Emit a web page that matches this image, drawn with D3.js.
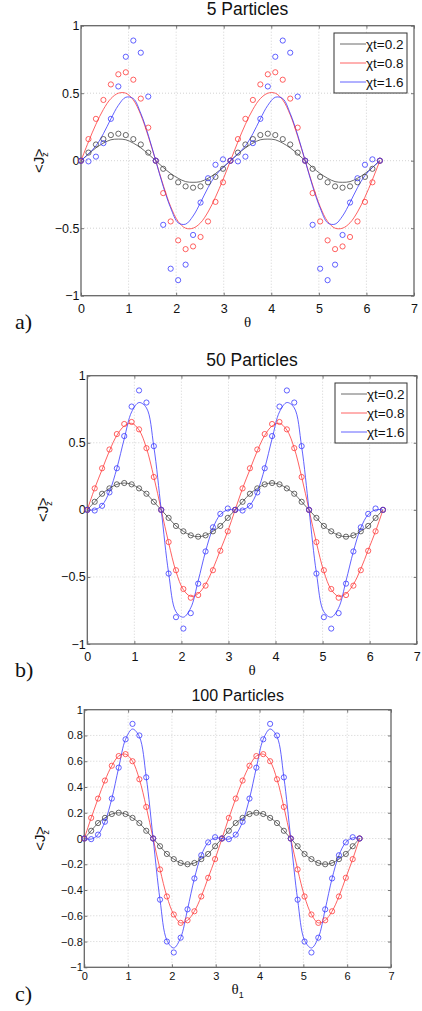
<!DOCTYPE html>
<html><head><meta charset="utf-8">
<script src="https://cdn.jsdelivr.net/npm/d3@7"></script>
<style>body{margin:0;background:#fff} svg{display:block}</style>
</head><body><svg id="c" width="422" height="1011"></svg>
<script>
// ---- data ----
const theta = [0,0.157,0.314,0.471,0.628,0.785,0.942,1.100,1.257,1.414,1.571,1.728,1.885,2.042,2.199,2.356,2.513,2.670,2.827,2.985,3.142,
  3.299,3.456,3.613,3.770,3.927,4.084,4.241,4.398,4.555,4.712,4.869,5.027,5.184,5.341,5.498,5.655,5.812,5.969,6.126,6.283];
const seriesNames = ["χt=0.2","χt=0.8","χt=1.6"];
const titles = ["5 Particles","50 Particles","100 Particles"];
const panelTags = ["a)","b)","c)"];
const xTicks = [0,1,2,3,4,5,6,7];
const yTicksAB = [-1,-0.5,0,0.5,1];
const yTicksC = [-1,-0.8,-0.6,-0.4,-0.2,0,0.2,0.4,0.6,0.8,1];

// circles (same in all panels)
const markBlack = [0,.06,.12,.16,.19,.20,.19,.16,.12,.06,0,-.06,-.12,-.16,-.19,-.20,-.19,-.16,-.12,-.06,0,
  .06,.12,.16,.19,.20,.19,.16,.12,.06,0,-.06,-.12,-.16,-.19,-.20,-.19,-.16,-.12,-.06,0];
const markRed = [0,.16,.31,.45,.565,.64,.655,.60,.46,.245,0,-.24,-.45,-.59,-.655,-.635,-.565,-.45,-.305,-.16,0,
  .16,.31,.45,.565,.64,.655,.60,.46,.245,0,-.24,-.45,-.59,-.655,-.635,-.565,-.45,-.305,-.16,0];
const markBlue = [0,-.005,.03,.13,.31,.55,.77,.89,.80,.475,0,-.475,-.80,-.885,-.77,-.55,-.31,-.13,-.03,.01,0,
  -.005,.03,.13,.31,.55,.77,.89,.80,.475,0,-.475,-.80,-.885,-.77,-.55,-.31,-.13,-.03,.01,0];

// lines, panel a (5 particles)
const lineA_black = [0,.05,.095,.13,.155,.16,.155,.13,.095,.05,0,-.05,-.095,-.13,-.155,-.16,-.155,-.13,-.095,-.05,0,
  .05,.095,.13,.155,.16,.155,.13,.095,.05,0,-.05,-.095,-.13,-.155,-.16,-.155,-.13,-.095,-.05,0];
const lineA_red = [0,.14,.27,.38,.46,.50,.50,.45,.34,.18,0,-.18,-.34,-.45,-.50,-.50,-.46,-.38,-.27,-.14,0,
  .14,.27,.38,.46,.50,.50,.45,.34,.18,0,-.18,-.34,-.45,-.50,-.50,-.46,-.38,-.27,-.14,0];
const lineA_blue = [0,.05,.11,.20,.31,.41,.47,.46,.35,.19,0,-.19,-.35,-.46,-.47,-.41,-.31,-.20,-.11,-.05,0,
  .05,.11,.20,.31,.41,.47,.46,.35,.19,0,-.19,-.35,-.46,-.47,-.41,-.31,-.20,-.11,-.05,0];
// lines, panel b (50 particles)
const lineB_black = [0,.06,.12,.16,.19,.20,.19,.16,.12,.06,0,-.06,-.12,-.16,-.19,-.20,-.19,-.16,-.12,-.06,0,
  .06,.12,.16,.19,.20,.19,.16,.12,.06,0,-.06,-.12,-.16,-.19,-.20,-.19,-.16,-.12,-.06,0];
const lineB_red = [0,.16,.30,.44,.555,.625,.645,.595,.46,.245,0,-.245,-.46,-.595,-.645,-.625,-.555,-.44,-.30,-.16,0,
  .16,.30,.44,.555,.625,.645,.595,.46,.245,0,-.245,-.46,-.595,-.645,-.625,-.555,-.44,-.30,-.16,0];
const lineB_blue = [0,0,.035,.135,.31,.53,.73,.80,.76,.47,0,-.47,-.76,-.80,-.73,-.53,-.31,-.135,-.035,0,0,
  0,.035,.135,.31,.53,.73,.80,.76,.47,0,-.47,-.76,-.80,-.73,-.53,-.31,-.135,-.035,0,0];
// lines, panel c (100 particles)
const lineC_black = [0,.06,.12,.16,.19,.20,.19,.16,.12,.06,0,-.06,-.12,-.16,-.19,-.20,-.19,-.16,-.12,-.06,0,
  .06,.12,.16,.19,.20,.19,.16,.12,.06,0,-.06,-.12,-.16,-.19,-.20,-.19,-.16,-.12,-.06,0];
const lineC_red = [0,.16,.31,.45,.565,.64,.655,.60,.46,.245,0,-.24,-.45,-.59,-.655,-.635,-.565,-.45,-.305,-.16,0,
  .16,.31,.45,.565,.64,.655,.60,.46,.245,0,-.24,-.45,-.59,-.655,-.635,-.565,-.45,-.305,-.16,0];
const lineC_blue = [0,-.005,.03,.13,.31,.55,.77,.85,.79,.475,0,-.475,-.79,-.85,-.77,-.55,-.31,-.13,-.03,.005,0,
  -.005,.03,.13,.31,.55,.77,.85,.79,.475,0,-.475,-.79,-.85,-.77,-.55,-.31,-.13,-.03,.005,0];

// ---- style / layout ----
const colors = ["#444","#ff3a3a","#3a3aff"];
const FONT = "'Liberation Sans', Arial, Helvetica, sans-serif";
const panels = [
  {L:81, R:414, T:25.7, B:295.7, titleY:15, titleFs:17.5, tickFs:12.5, yTicks:yTicksAB, lines:[lineA_black,lineA_red,lineA_blue],
   legend:{x:334,y:33,w:73,h:60}, xlabY:327, ylabX:44, tagY:329, xlab:"θ", sub:"", xPad:8, legendFs:13.5},
  {L:87.3, R:416.7, T:375.7, B:644, titleY:365.7, titleFs:17.5, tickFs:12.5, yTicks:yTicksAB, lines:[lineB_black,lineB_red,lineB_blue],
   legend:{x:335,y:383,w:72,h:60}, xlabY:675, ylabX:48, tagY:677, xlab:"θ", sub:"", xPad:8.5, legendFs:13.5},
  {L:84.3, R:391, T:709.7, B:967.3, titleY:701, titleFs:16, tickFs:11, yTicks:yTicksC, lines:[lineC_black,lineC_red,lineC_blue],
   legend:null, xlabY:994, ylabX:45, tagY:1001, xlab:"θ", sub:"1", xPad:5, legendFs:13}
];
const marks = [markBlack, markRed, markBlue];
const fmt = d => d === 0 ? "0" : (d < 0 ? "−" : "") + String(Math.abs(d));

const svg = d3.select("#c");

panels.forEach((p, pi) => {
  const x = d3.scaleLinear().domain([0,7]).range([p.L, p.R]);
  const y = d3.scaleLinear().domain([-1,1]).range([p.B, p.T]);
  const g = svg.append("g");

  // grid
  g.append("g").selectAll("line").data(xTicks.slice(1,-1)).join("line")
    .attr("x1", d => x(d)).attr("x2", d => x(d)).attr("y1", p.T).attr("y2", p.B)
    .attr("stroke", "#c8c8c8").attr("stroke-width", 0.8).attr("stroke-dasharray", "1,2");
  g.append("g").selectAll("line").data(p.yTicks.slice(1,-1)).join("line")
    .attr("y1", d => y(d)).attr("y2", d => y(d)).attr("x1", p.L).attr("x2", p.R)
    .attr("stroke", "#c8c8c8").attr("stroke-width", 0.8).attr("stroke-dasharray", "1,2");

  // axes
  const axB = g.append("g").attr("transform", `translate(0,${p.B})`)
    .call(d3.axisBottom(x).tickValues(xTicks).tickSize(-3).tickSizeOuter(0).tickPadding(p.xPad).tickFormat(fmt));
  const axT = g.append("g").attr("transform", `translate(0,${p.T})`)
    .call(d3.axisTop(x).tickValues(xTicks).tickSize(-3).tickSizeOuter(0).tickFormat(""));
  const axL = g.append("g").attr("transform", `translate(${p.L},0)`)
    .call(d3.axisLeft(y).tickValues(p.yTicks).tickSize(-3).tickSizeOuter(0).tickPadding(1.5).tickFormat(fmt));
  const axR = g.append("g").attr("transform", `translate(${p.R},0)`)
    .call(d3.axisRight(y).tickValues(p.yTicks).tickSize(-3).tickSizeOuter(0).tickFormat(""));
  [axB, axT, axL, axR].forEach(a => {
    a.select(".domain").remove();
    a.selectAll("line").attr("stroke", "#555").attr("stroke-width", 0.8);
    a.selectAll("text").attr("fill", "#111").style("font-family", FONT).style("font-size", p.tickFs + "px");
  });

  // box
  g.append("rect").attr("x", p.L).attr("y", p.T).attr("width", p.R - p.L).attr("height", p.B - p.T)
    .attr("fill", "none").attr("stroke", "#666").attr("stroke-width", 1.3);

  // lines
  const lineGen = d3.line().x((d, i) => x(theta[i])).y(d => y(d)).curve(d3.curveCatmullRom.alpha(0.5));
  p.lines.forEach((arr, si) => {
    g.append("path").attr("d", lineGen(arr)).attr("fill", "none")
      .attr("stroke", colors[si]).attr("stroke-width", 0.8);
  });
  // markers
  marks.forEach((arr, si) => {
    g.append("g").selectAll("circle").data(arr).join("circle")
      .attr("cx", (d, i) => x(theta[i])).attr("cy", d => y(d)).attr("r", 2.6)
      .attr("fill", "none").attr("stroke", colors[si]).attr("stroke-width", 0.8);
  });

  // title
  g.append("text").attr("x", (p.L + p.R) / 2).attr("y", p.titleY).attr("text-anchor", "middle")
    .style("font-family", FONT).style("font-size", p.titleFs + "px").attr("fill", "#111").text(titles[pi]);

  // x label
  const xl = g.append("text").attr("x", (p.L + p.R) / 2).attr("y", p.xlabY).attr("text-anchor", "middle")
    .style("font-family", "'Liberation Serif', 'DejaVu Serif', serif").style("font-size", "15px").attr("fill", "#111");
  xl.append("tspan").text(p.xlab);
  if (p.sub) xl.append("tspan").attr("dy", 4).style("font-size", "9px").style("font-family", FONT).text(p.sub);

  // y label
  const cy = (p.T + p.B) / 2;
  const yl = g.append("text").attr("transform", `translate(${p.ylabX},${cy}) rotate(-90)`).attr("text-anchor", "middle")
    .style("font-family", FONT).style("font-size", "15px").attr("fill", "#111");
  yl.append("tspan").text("<J");
  yl.append("tspan").attr("dy", 4).style("font-size", "9px").text("z");
  yl.append("tspan").attr("dy", -4).attr("dx", -5).text(">");

  // panel tag
  g.append("text").attr("x", 15).attr("y", p.tagY)
    .style("font-family", "'Liberation Serif', 'Times New Roman', serif").style("font-size", "22px").attr("fill", "#111")
    .text(panelTags[pi]);

  // legend
  if (p.legend) {
    const lg = g.append("g").attr("transform", `translate(${p.legend.x},${p.legend.y})`);
    lg.append("rect").attr("width", p.legend.w).attr("height", p.legend.h)
      .attr("fill", "#fff").attr("stroke", "#333").attr("stroke-width", 1);
    seriesNames.forEach((nm, si) => {
      const ry = 11 + si * 19;
      lg.append("line").attr("x1", 6).attr("x2", 32).attr("y1", ry).attr("y2", ry)
        .attr("stroke", colors[si]).attr("stroke-width", 0.8);
      lg.append("text").attr("x", 32).attr("y", ry + 4.5)
        .style("font-family", FONT).style("font-size", p.legendFs + "px").attr("fill", "#111").text(nm);
    });
  }
});
</script></body></html>
